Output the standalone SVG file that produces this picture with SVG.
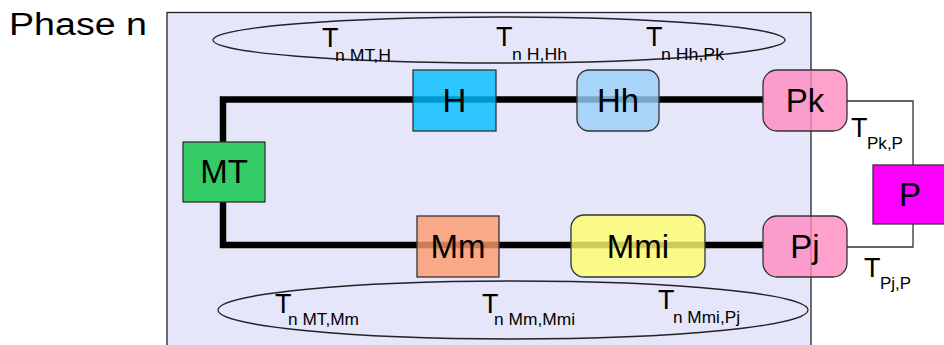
<svg xmlns="http://www.w3.org/2000/svg" width="944" height="345" viewBox="0 0 944 345">
<style>
text{font-family:"Liberation Sans",Arial,sans-serif;fill:#000}
.node{stroke:#333;stroke-width:1.3}
.tr{fill-opacity:0.8}
.lbl{font-size:33px;text-anchor:middle}
.T{font-size:27px}
.sub{font-size:16px}
.thick{fill:none;stroke:#000;stroke-width:6.5;stroke-linejoin:miter}
.thin{fill:none;stroke:#333;stroke-width:1.3}
.ell{fill:none;stroke:#222;stroke-width:1.3}
</style>
<text x="9" y="35" font-size="31" textLength="138" lengthAdjust="spacingAndGlyphs">Phase n</text>
<rect x="167" y="12.5" width="644" height="340" fill="#e6e6fa" stroke="#222" stroke-width="1.3"/>
<g id="phase-labels">
<ellipse class="ell" cx="499" cy="40" rx="286" ry="23"/>
<ellipse class="ell" cx="513" cy="310" rx="295" ry="29"/>
<text class="T" x="322" y="47">T</text><text class="sub" x="335" y="61" textLength="56" lengthAdjust="spacingAndGlyphs">n MT,H</text>
<text class="T" x="496" y="46">T</text><text class="sub" x="512" y="60" textLength="55" lengthAdjust="spacingAndGlyphs">n H,Hh</text>
<text class="T" x="646" y="46">T</text><text class="sub" x="661" y="60" textLength="63" lengthAdjust="spacingAndGlyphs">n Hh,Pk</text>
<text class="T" x="275" y="313">T</text><text class="sub" x="288" y="325" textLength="71" lengthAdjust="spacingAndGlyphs">n MT,Mm</text>
<text class="T" x="482" y="313">T</text><text class="sub" x="494" y="325" textLength="81" lengthAdjust="spacingAndGlyphs">n Mm,Mmi</text>
<text class="T" x="658" y="309">T</text><text class="sub" x="673" y="323" textLength="67" lengthAdjust="spacingAndGlyphs">n Mmi,Pj</text>
</g>
<g id="connectors">
<path class="thick" d="M763 99.5 H223 V142"/>
<path class="thick" d="M223 202 V245 H763"/>
<path class="thin" d="M847 101 H913 V165"/>
<path class="thin" d="M913 224 V247 H847"/>
<text class="T" x="851" y="137">T</text><text class="sub" x="867" y="149" textLength="36" lengthAdjust="spacingAndGlyphs">Pk,P</text>
<text class="T" x="864" y="277">T</text><text class="sub" x="880" y="289" textLength="31" lengthAdjust="spacingAndGlyphs">Pj,P</text>
</g>
<g id="MT"><rect class="node" x="183" y="142" width="82" height="60" fill="#33cc66"/><text class="lbl" x="224" y="183">MT</text></g>
<g id="H"><rect class="node tr" x="413" y="70" width="83" height="61" fill="#00beff"/><text class="lbl" x="454.5" y="112">H</text></g>
<g id="Hh"><rect class="node tr" x="577" y="70" width="82" height="61" rx="12" fill="#98cffa"/><text class="lbl" x="618" y="112">Hh</text></g>
<g id="Pk"><rect class="node tr" x="763" y="70" width="84" height="61" rx="14" fill="#ff89c0"/><text class="lbl" x="805" y="112">Pk</text></g>
<g id="Mm"><rect class="node tr" x="417" y="216" width="82" height="61" fill="#fe9a6b"/><text class="lbl" x="458" y="258">Mm</text></g>
<g id="Mmi"><rect class="node tr" x="571" y="215" width="134" height="62" rx="13" fill="#ffff6b"/><text class="lbl" x="638" y="258">Mmi</text></g>
<g id="Pj"><rect class="node tr" x="763" y="216" width="84" height="61" rx="14" fill="#ff89c0"/><text class="lbl" x="805" y="258">Pj</text></g>
<g id="P"><rect class="node" x="873" y="165" width="75" height="59" fill="#ff00ff"/><text class="lbl" x="910" y="206">P</text></g>
</svg>
